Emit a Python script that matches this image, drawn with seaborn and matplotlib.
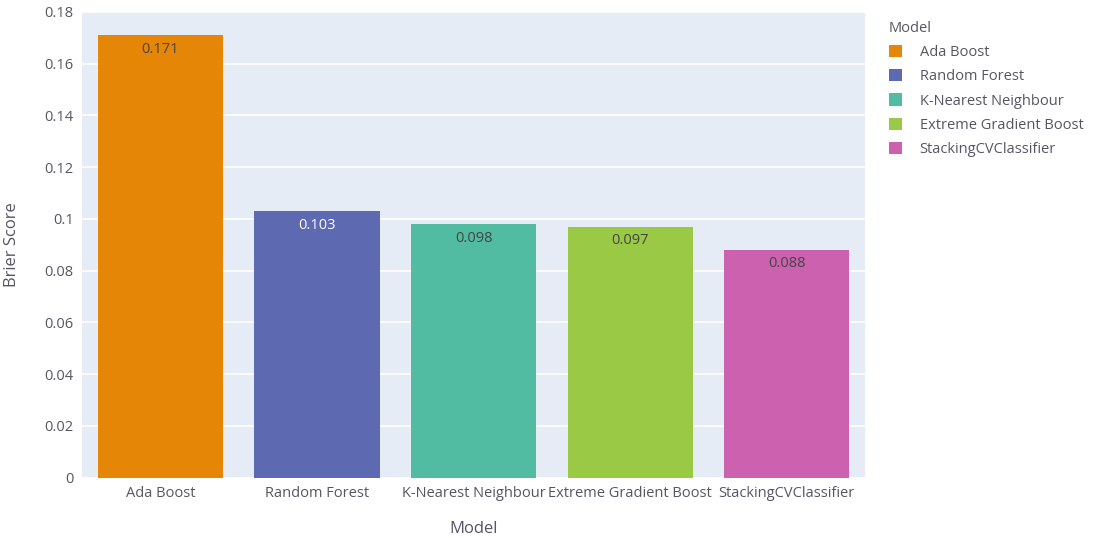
import matplotlib
matplotlib.use("Agg")
import matplotlib.pyplot as plt
import seaborn as sns
import pandas as pd

models = ["Ada Boost", "Random Forest", "K-Nearest Neighbour", "Extreme Gradient Boost", "StackingCVClassifier"]
brier = [0.171, 0.103, 0.098, 0.097, 0.088]
labels = ["0.171", "0.103", "0.098", "0.097", "0.088"]
colors = ["#E58606", "#5D69B1", "#52BCA3", "#99C945", "#CC61B0"]
label_colors = ["#444444", "#ffffff", "#444444", "#444444", "#444444"]
yticks = [0, 0.02, 0.04, 0.06, 0.08, 0.1, 0.12, 0.14, 0.16, 0.18]
ytick_labels = ["0", "0.02", "0.04", "0.06", "0.08", "0.1", "0.12", "0.14", "0.16", "0.18"]

df = pd.DataFrame({"Model": models, "Brier Score": brier})

sns.set_theme(style="white")
plt.rcParams["font.family"] = ["Open Sans", "DejaVu Sans"]
txt = "#555566"

fig = plt.figure(figsize=(10.95, 5.38), dpi=100)
ax = fig.add_axes([0.075, 0.112, 0.715, 0.866])
ax.set_facecolor("#E5ECF6")

sns.barplot(data=df, x="Model", y="Brier Score", hue="Model", palette=colors,
            width=0.8, dodge=False, legend=False, ax=ax, saturation=1, linewidth=0)

ax.set_ylim(0, 0.18)
ax.set_xlim(-0.5, len(models) - 0.5)
ax.set_yticks(yticks)
ax.set_yticklabels(ytick_labels)
ax.yaxis.grid(True, color="white", linewidth=1.2)
ax.set_axisbelow(True)
for s in ax.spines.values():
    s.set_visible(False)
ax.tick_params(axis="both", length=0, labelsize=10.5, colors=txt, pad=6)
ax.set_xlabel("Model", fontsize=12, color=txt, labelpad=14)
ax.set_ylabel("Brier Score", fontsize=12, color=txt, labelpad=18)

for i, (v, lab, c) in enumerate(zip(brier, labels, label_colors)):
    ax.text(i, v - 0.0025, lab, ha="center", va="top", fontsize=10.5, color=c)

# legend
from matplotlib.patches import Patch
handles = [Patch(facecolor=c, edgecolor="none") for c in colors]
leg = fig.legend(handles, models, title="Model", loc="upper left",
                 bbox_to_anchor=(0.8, 0.985), frameon=False, fontsize=10.5,
                 title_fontsize=10.5, handlelength=0.9, handleheight=0.9,
                 labelspacing=0.62, handletextpad=1.2, alignment="left")
for t in leg.get_texts():
    t.set_color(txt)
leg.get_title().set_color(txt)

fig.savefig("out.png", dpi=100)
